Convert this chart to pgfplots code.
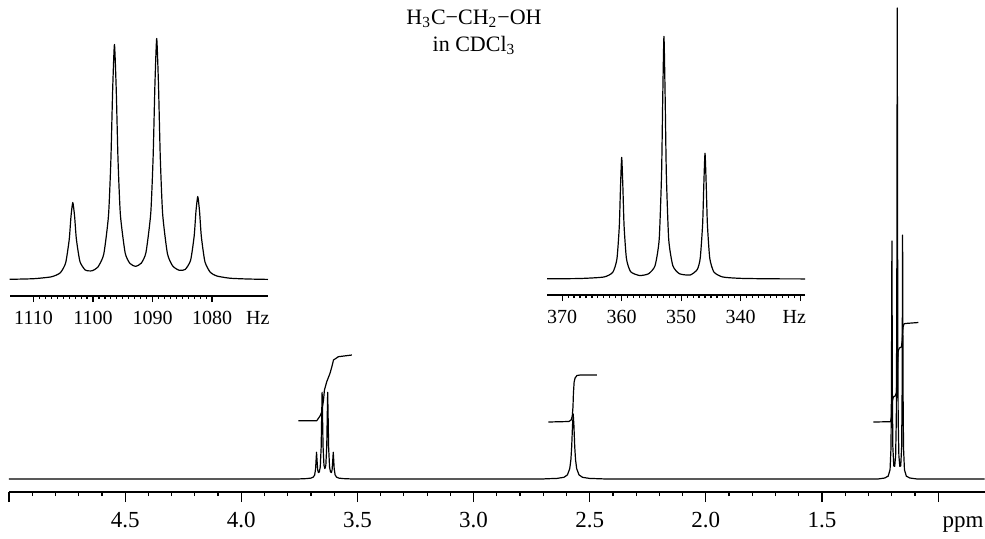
\documentclass[border=0pt]{standalone}
\usepackage{fontspec}
\setmainfont{Liberation Serif}
\usepackage{pgfplots}
\pgfplotsset{compat=1.18}
\pgfplotsset{
  nmr/.style={
    scale only axis, clip=false,
    axis x line*=bottom, axis y line=none,
    x dir=reverse, tick align=outside, ytick=\empty,
    /pgf/number format/assume math mode=true,
    typeset ticklabels with strut,
    axis line style={line width=0.9pt},
    every tick/.style={black, line width=0.6pt},
    extra x tick style={tick style={draw=none}},
  },
  spec/.style={black, line width=0.6pt, line join=round, no markers},
}
\begin{document}
\begin{tikzpicture}
\useasboundingbox (0,0) rectangle (492.5pt,269pt);

% full spectrum, ppm
\begin{axis}[nmr, at={(4.5pt,23pt)}, anchor=south west,
  width=487.8pt, height=246pt,
  xmin=0.8, xmax=5.0, ymin=-13, ymax=479,
  xtick={1.0,1.5,2.0,2.5,3.0,3.5,4.0,4.5,5.0},
  xticklabels={,1.5,2.0,2.5,3.0,3.5,4.0,4.5,},
  minor x tick num=4,
  major tick length=5pt, minor tick length=2pt,
  extra x ticks={0.893}, extra x tick labels={ppm},
  xticklabel style={font=\fontsize{11.5}{13}\selectfont},
]
\addplot[spec] coordinates {
  (5.00,0) (3.76,0) (3.720,0.4) (3.700,0.9) (3.690,1.9) (3.684,4.1) (3.680,10.3)
  (3.678,18.7) (3.676,26.7) (3.674,19.3) (3.671,9.1) (3.668,6.5) (3.664,7.1)
  (3.660,12.1) (3.656,32) (3.654,60.5) (3.652,86.7) (3.650,60.8) (3.648,32.8)
  (3.644,13.8) (3.640,10.4) (3.636,13.8) (3.632,32.8) (3.630,60.8) (3.628,86.7)
  (3.626,60.5) (3.624,32) (3.620,12.1) (3.616,7.1) (3.612,6.5) (3.609,9.1)
  (3.606,19.3) (3.604,26.7) (3.602,18.7) (3.600,10.3) (3.596,4.1) (3.590,1.9)
  (3.580,0.9) (3.560,0.4) (3.52,0)
  (2.70,0) (2.691,0.2) (2.641,0.6) (2.611,1.7) (2.596,4.1) (2.586,10.3) (2.581,19.3)
  (2.5775,32.5) (2.574,53.6) (2.571,65) (2.568,53.6) (2.5645,32.5) (2.561,19.3)
  (2.556,10.3) (2.546,4.1) (2.531,1.7) (2.501,0.6) (2.451,0.2) (2.43,0)
  (1.26,0) (1.230,1.0) (1.215,2.9) (1.207,9.3) (1.203,30.8) (1.201,87) (1.200,165)
  (1.199,238) (1.198,165) (1.197,87) (1.195,32.3) (1.191,13.1) (1.187,12.7)
  (1.183,23.4) (1.180,60.3) (1.178,171.5) (1.177,328) (1.176,471) (1.175,328)
  (1.174,171.5) (1.172,60.3) (1.169,23.4) (1.165,12.7) (1.161,13.1) (1.157,32.5)
  (1.155,88) (1.154,167) (1.153,244) (1.152,167) (1.151,88) (1.149,31) (1.145,9.3)
  (1.137,2.9) (1.122,1.0) (1.09,0) (0.80,0)
};
% integrals
\addplot[spec] coordinates {
  (3.754,58.3) (3.675,58.3) (3.661,63) (3.653,67.3) (3.646,79) (3.642,89)
  (3.632,97.3) (3.618,105.7) (3.610,112.3) (3.603,119) (3.582,122.3) (3.524,124)
};
\addplot[spec] coordinates {
  (2.678,57) (2.590,57.5) (2.580,59) (2.575,63) (2.572,72) (2.570,86) (2.567,97)
  (2.563,101) (2.555,103.5) (2.540,104) (2.469,104)
};
\addplot[spec] coordinates {
  (1.279,57) (1.205,57.3) (1.201,62) (1.199,70) (1.197,78) (1.193,82) (1.185,83)
  (1.180,86) (1.178,95) (1.176,107) (1.174,119) (1.172,128) (1.167,131)
  (1.158,132) (1.155,138) (1.153,145) (1.151,152) (1.147,155) (1.142,155.5)
  (1.085,156.5)
};
\end{axis}

% CH2 quartet, Hz
\begin{axis}[nmr, at={(5pt,121pt)}, anchor=south west,
  width=129pt, height=133pt,
  xmin=1070.6, xmax=1113.95, ymin=-16, ymax=250,
  xtick={1080,1090,1100,1110}, xticklabels={1080,1090,1100,1110},
  minor x tick num=9,
  major tick length=3pt, minor tick length=1.5pt,
  extra x ticks={1072.3}, extra x tick labels={Hz},
  xticklabel style={font=\fontsize{10}{11}\selectfont},
]
\addplot[spec, smooth, tension=0.35] coordinates {
  (1114,0.7) (1110,1.3) (1107,3.2) (1105.5,7.2) (1104.6,17.1) (1104.0,40.4)
  (1103.7,63.7) (1103.4,77.5) (1103.1,64) (1102.8,41.1) (1102.2,18.5)
  (1101.3,10.0) (1100.2,9.2) (1099.2,12.8) (1098.2,25.7) (1097.4,64.4)
  (1097.0,119.8) (1096.7,190.3) (1096.4,235.5) (1096.1,190.5) (1095.8,120.2)
  (1095.4,65.1) (1094.6,27.1) (1093.8,16.6) (1092.85,13.7) (1091.9,16.8)
  (1091.1,27.6) (1090.3,66.7) (1089.9,123.2) (1089.6,195.3) (1089.3,241.5)
  (1089.0,195.2) (1088.7,122.8) (1088.3,66.0) (1087.5,26.4) (1086.6,13.9)
  (1085.5,9.7) (1084.5,10.6) (1083.6,19.8) (1083.0,44.2) (1082.7,68.9)
  (1082.4,83.5) (1082.1,68.5) (1081.8,43.5) (1081.2,18.3) (1080.3,7.7)
  (1079.2,4.0) (1077.0,1.8) (1074,1.0) (1070.6,0.6)
};
\end{axis}

% CH3 triplet, Hz
\begin{axis}[nmr, at={(273.5pt,121.5pt)}, anchor=south west,
  width=129pt, height=133pt,
  xmin=329.2, xmax=372.55, ymin=-16, ymax=250,
  xtick={330,340,350,360,370}, xticklabels={,340,350,360,370},
  minor x tick num=9,
  major tick length=3pt, minor tick length=1.5pt,
  extra x ticks={331.0}, extra x tick labels={Hz},
  xticklabel style={font=\fontsize{10}{11}\selectfont},
]
\addplot[spec, smooth, tension=0.35] coordinates {
  (372.55,0.2) (367,0.5) (363,2.0) (361.5,6.7) (360.8,20.0) (360.4,53.0)
  (360.2,91.8) (360.0,121.6) (359.8,91.9) (359.6,53.1) (359.2,20.3) (358.5,7.3)
  (357,3.5) (355.5,5.2) (354.4,13.2) (353.7,39.5) (353.3,105.4) (353.1,182.6)
  (352.9,242.6) (352.7,182.6) (352.5,105.4) (352.1,39.6) (351.4,13.2)
  (350.3,5.3) (348.5,4.0) (347.3,9.5) (346.8,21.0) (346.4,54.9) (346.2,94.7)
  (346.0,125.7) (345.8,94.6) (345.6,54.7) (345.2,20.7) (344.5,6.9) (343,2.0)
  (340,0.65) (335,0.2) (329.2,0.1)
};
\end{axis}

\node[align=center, font=\fontsize{11}{13.5}\selectfont] at (237pt,253pt)
  {H\textsubscript{3}C−CH\textsubscript{2}−OH\\in CDCl\textsubscript{3}};
\end{tikzpicture}
\end{document}
